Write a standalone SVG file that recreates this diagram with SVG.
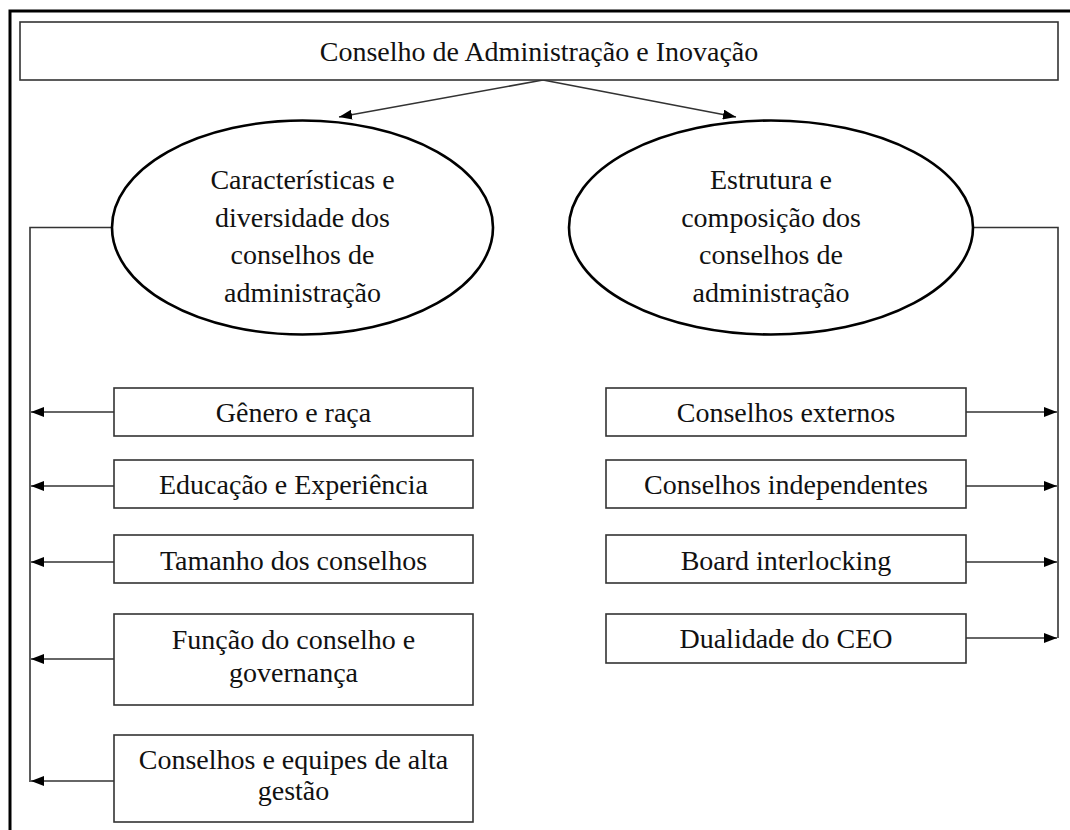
<svg xmlns="http://www.w3.org/2000/svg" width="1070" height="830" viewBox="0 0 1070 830">
  <style>
    .box { fill: #ffffff; stroke: #333333; stroke-width: 1.6; }
    .ell { fill: #ffffff; stroke: #000000; stroke-width: 2.6; }
    .conn { fill: none; stroke: #333333; stroke-width: 1.6; }
    .t { font-family: "Liberation Serif", "Times New Roman", serif; font-size: 28px; fill: #111111; text-anchor: middle; }
  </style>
  <defs>
    <marker id="arr" viewBox="0 0 13 10" refX="13" refY="5" markerWidth="13" markerHeight="10" markerUnits="userSpaceOnUse" orient="auto">
      <path d="M0,0 L13,5 L0,10 Z" fill="#000000"/>
    </marker>
  </defs>
  <rect width="1070" height="830" fill="#ffffff"/>
  <!-- outer frame -->
  <path d="M10,832 V11 H1072" fill="none" stroke="#000000" stroke-width="3"/>

  <g id="connectors">
    <line class="conn" x1="543" y1="80" x2="339" y2="117" marker-end="url(#arr)"/>
    <line class="conn" x1="543" y1="80" x2="736" y2="117" marker-end="url(#arr)"/>
    <path class="conn" d="M112,227.5 H30 V782"/>
    <line class="conn" x1="114" y1="412" x2="31" y2="412" marker-end="url(#arr)"/>
    <line class="conn" x1="114" y1="486" x2="31" y2="486" marker-end="url(#arr)"/>
    <line class="conn" x1="114" y1="562" x2="31" y2="562" marker-end="url(#arr)"/>
    <line class="conn" x1="114" y1="659" x2="31" y2="659" marker-end="url(#arr)"/>
    <line class="conn" x1="114" y1="781" x2="31" y2="781" marker-end="url(#arr)"/>
    <path class="conn" d="M973,227.5 H1058 V638"/>
    <line class="conn" x1="966" y1="412" x2="1057" y2="412" marker-end="url(#arr)"/>
    <line class="conn" x1="966" y1="486" x2="1057" y2="486" marker-end="url(#arr)"/>
    <line class="conn" x1="966" y1="562" x2="1057" y2="562" marker-end="url(#arr)"/>
    <line class="conn" x1="966" y1="638" x2="1057" y2="638" marker-end="url(#arr)"/>
  </g>

  <g id="top">
    <rect class="box" x="20" y="22" width="1038" height="58"/>
    <text class="t" x="539" y="61">Conselho de Administração e Inovação</text>
  </g>

  <g id="ellipse-left">
    <ellipse class="ell" cx="302.5" cy="227.5" rx="190.5" ry="107"/>
    <text class="t" x="302.5" y="189">Características e</text>
    <text class="t" x="302.5" y="226.5">diversidade dos</text>
    <text class="t" x="302.5" y="264">conselhos de</text>
    <text class="t" x="302.5" y="301.5">administração</text>
  </g>

  <g id="ellipse-right">
    <ellipse class="ell" cx="771" cy="227.5" rx="202" ry="107"/>
    <text class="t" x="771" y="189">Estrutura e</text>
    <text class="t" x="771" y="226.5">composição dos</text>
    <text class="t" x="771" y="264">conselhos de</text>
    <text class="t" x="771" y="301.5">administração</text>
  </g>

  <g id="l1">
    <rect class="box" x="114" y="388" width="359" height="48"/>
    <text class="t" x="293.5" y="422">Gênero e raça</text>
  </g>
  <g id="l2">
    <rect class="box" x="114" y="460" width="359" height="48"/>
    <text class="t" x="293.5" y="494">Educação e Experiência</text>
  </g>
  <g id="l3">
    <rect class="box" x="114" y="535" width="359" height="48"/>
    <text class="t" x="293.5" y="569.5">Tamanho dos conselhos</text>
  </g>
  <g id="l4">
    <rect class="box" x="114" y="614" width="359" height="91"/>
    <text class="t" x="293.5" y="649">Função do conselho e</text>
    <text class="t" x="293.5" y="682">governança</text>
  </g>
  <g id="l5">
    <rect class="box" x="114" y="735" width="359" height="87"/>
    <text class="t" x="293.5" y="769">Conselhos e equipes de alta</text>
    <text class="t" x="293.5" y="800">gestão</text>
  </g>

  <g id="r1">
    <rect class="box" x="606" y="388" width="360" height="48"/>
    <text class="t" x="786" y="422">Conselhos externos</text>
  </g>
  <g id="r2">
    <rect class="box" x="606" y="460" width="360" height="48"/>
    <text class="t" x="786" y="494">Conselhos independentes</text>
  </g>
  <g id="r3">
    <rect class="box" x="606" y="535" width="360" height="48"/>
    <text class="t" x="786" y="569.5">Board interlocking</text>
  </g>
  <g id="r4">
    <rect class="box" x="606" y="614" width="360" height="49"/>
    <text class="t" x="786" y="648">Dualidade do CEO</text>
  </g>
</svg>
